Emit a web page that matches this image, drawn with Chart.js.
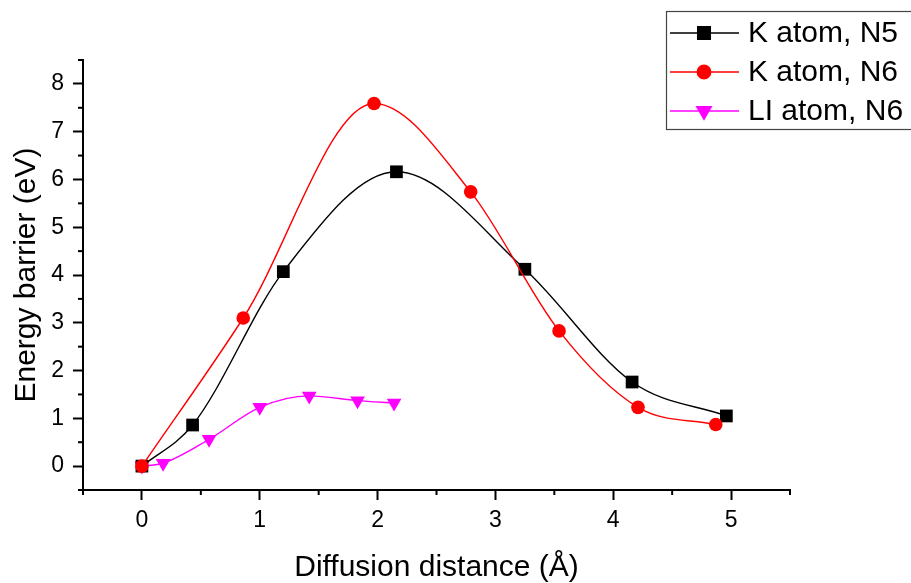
<!DOCTYPE html>
<html>
<head>
<meta charset="utf-8">
<script src="https://cdn.jsdelivr.net/npm/chart.js@4"></script>
<style>
  html, body { margin: 0; padding: 0; background: #fff; }
  #wrap { width: 911px; height: 583px; }
</style>
</head>
<body>
<div id="wrap"><canvas id="chart" width="911" height="583"></canvas></div>
<script>
let seriesNames = ['K atom, N5', 'K atom, N6', 'LI atom, N6'];

let xK5 = [0, 0.43, 1.20, 2.16, 3.25, 4.16, 4.96];
let yK5 = [0, 0.86, 4.07, 6.16, 4.12, 1.76, 1.05];

let xK6 = [0, 0.86, 1.97, 2.79, 3.54, 4.21, 4.87];
let yK6 = [0, 3.10, 7.59, 5.74, 2.83, 1.23, 0.87];

let xLi6 = [0, 0.18, 0.57, 1.00, 1.42, 1.83, 2.14];
let yLi6 = [0, 0.06, 0.56, 1.23, 1.47, 1.37, 1.32];

let FONT = "'Liberation Sans', Arial, sans-serif";

function pts(xs, ys) {
  return xs.map((x, i) => ({ x: x, y: ys[i] }));
}

// short minor ticks at the half steps
let minorTicks = {
  id: 'minorTicks',
  afterDraw(chart) {
    let ctx = chart.ctx;
    let area = chart.chartArea;
    ctx.save();
    ctx.strokeStyle = '#000';
    ctx.lineWidth = 2;
    let xs = chart.scales.x;
    for (let v = xs.min; v <= xs.max + 1e-9; v += 0.5) {
      if (Math.abs(v - Math.round(v)) < 1e-9) continue;
      let px = xs.getPixelForValue(v);
      ctx.beginPath();
      ctx.moveTo(px, area.bottom);
      ctx.lineTo(px, area.bottom + 5);
      ctx.stroke();
    }
    let ys = chart.scales.y;
    for (let v = ys.min; v <= ys.max + 1e-9; v += 0.5) {
      if (Math.abs(v - Math.round(v)) < 1e-9) continue;
      let py = ys.getPixelForValue(v);
      ctx.beginPath();
      ctx.moveTo(area.left, py);
      ctx.lineTo(area.left - 5, py);
      ctx.stroke();
    }
    ctx.restore();
  }
};

// framed legend in the top right corner, line + marker samples
let boxLegend = {
  id: 'boxLegend',
  afterDraw(chart) {
    let ctx = chart.ctx;
    ctx.save();
    ctx.fillStyle = '#fff';
    ctx.fillRect(666, 11, 260, 118);
    ctx.strokeStyle = '#444';
    ctx.lineWidth = 1.2;
    ctx.strokeRect(666.5, 11.5, 260, 118);
    let rows = [33, 72, 111];
    chart.data.datasets.forEach((ds, i) => {
      let y = rows[i];
      ctx.strokeStyle = ds.borderColor;
      ctx.lineWidth = 1.3;
      ctx.beginPath();
      ctx.moveTo(670, y);
      ctx.lineTo(739, y);
      ctx.stroke();
      ctx.fillStyle = ds.pointBackgroundColor;
      ctx.strokeStyle = ds.pointBackgroundColor;
      Chart.helpers.drawPoint(ctx, {
        pointStyle: ds.pointStyle,
        rotation: ds.pointRotation || 0,
        radius: ds.pointRadius,
        borderWidth: 1
      }, 704, y);
      ctx.fillStyle = '#000';
      ctx.font = '30px ' + FONT;
      ctx.textBaseline = 'middle';
      ctx.fillText(ds.label, 748, y + 1);
    });
    ctx.restore();
  }
};

let data = {
  datasets: [{
    label: seriesNames[0],
    data: pts(xK5, yK5),
    borderColor: '#000000',
    borderWidth: 1.4,
    pointStyle: 'rect',
    pointRadius: 9,
    pointBackgroundColor: '#000000',
    pointBorderColor: '#000000',
    pointBorderWidth: 0,
    cubicInterpolationMode: 'monotone',
    order: 2
  }, {
    label: seriesNames[1],
    data: pts(xK6, yK6),
    borderColor: '#ff0000',
    borderWidth: 1.4,
    pointStyle: 'circle',
    pointRadius: 6.8,
    pointBackgroundColor: '#ff0000',
    pointBorderColor: '#ff0000',
    pointBorderWidth: 0,
    cubicInterpolationMode: 'monotone',
    order: 1
  }, {
    label: seriesNames[2],
    data: pts(xLi6, yLi6),
    borderColor: '#ff00ff',
    borderWidth: 1.4,
    pointStyle: 'triangle',
    pointRotation: 180,
    pointRadius: 8.5,
    pointBackgroundColor: '#ff00ff',
    pointBorderColor: '#ff00ff',
    pointBorderWidth: 0,
    cubicInterpolationMode: 'monotone',
    order: 3
  }]
};

let isInt = (v) => Math.abs(v - Math.round(v)) < 1e-9;

let chart = new Chart(document.getElementById('chart'), {
  type: 'line',
  data: data,
  plugins: [minorTicks, boxLegend],
  options: {
    responsive: false,
    animation: false,
    layout: { padding: { left: 0, top: 60, right: 121, bottom: 0 } },
    plugins: {
      legend: { display: false },
      tooltip: { enabled: false }
    },
    scales: {
      x: {
        type: 'linear',
        min: -0.5,
        max: 5.5,
        afterFit: (s) => { s.height = 93; },
        border: { display: true, color: '#000', width: 2 },
        grid: {
          drawOnChartArea: false,
          drawTicks: true,
          tickLength: 10,
          tickWidth: 2,
          tickColor: (c) => (c.tick && isInt(c.tick.value)) ? '#000' : 'rgba(0,0,0,0)'
        },
        ticks: {
          stepSize: 0.5,
          autoSkip: false,
          maxRotation: 0,
          padding: 7,
          color: '#000',
          font: { family: FONT, size: 23 },
          callback: (v) => isInt(v) ? String(Math.round(v)) : ''
        },
        title: {
          display: true,
          text: 'Diffusion distance (Å)',
          color: '#000',
          font: { family: FONT, size: 30, lineHeight: 1 },
          padding: { top: 0, bottom: 0 }
        }
      },
      y: {
        min: -0.5,
        max: 8.5,
        afterFit: (s) => { s.width = 83; },
        border: { display: true, color: '#000', width: 2 },
        grid: {
          drawOnChartArea: false,
          drawTicks: true,
          tickLength: 10,
          tickWidth: 2,
          tickColor: (c) => (c.tick && isInt(c.tick.value)) ? '#000' : 'rgba(0,0,0,0)'
        },
        ticks: {
          stepSize: 0.5,
          autoSkip: false,
          padding: 9,
          color: '#000',
          font: { family: FONT, size: 23 },
          callback: (v) => isInt(v) ? String(Math.round(v)) : ''
        },
        title: {
          display: true,
          text: 'Energy barrier (eV)',
          color: '#000',
          font: { family: FONT, size: 30 },
          padding: { top: 9, bottom: 0 }
        }
      }
    }
  }
});
</script>
</body>
</html>
